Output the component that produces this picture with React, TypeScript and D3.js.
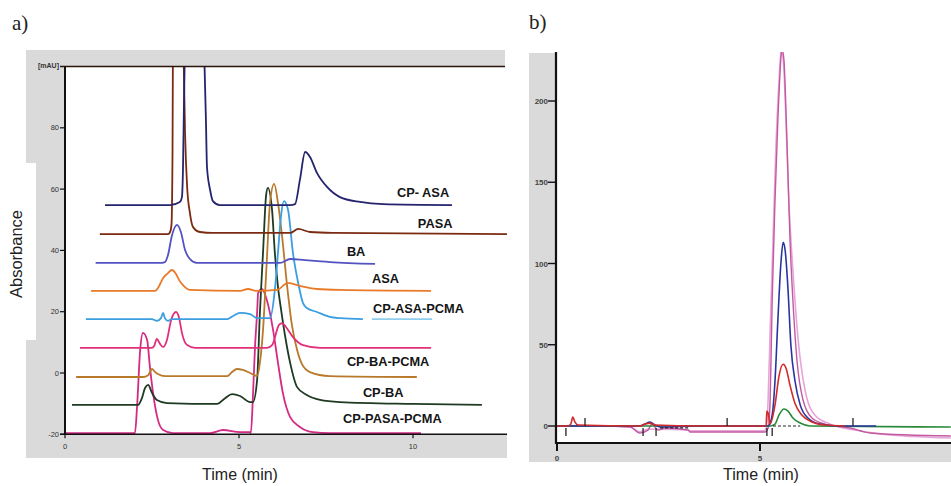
import React from 'react';
import * as d3 from 'd3';

type P = [number, number];

// ---------- Panel a: chromatograms (time min, absorbance mAU) ----------
const cpAsa: P[] = [
  [1.15, 54.8], [3.02, 54.8], [3.3, 55.8], [3.36, 57.4], [3.39, 66.2], [3.42, 89.1], [3.45, 108.6],
  [3.74, 219], [3.99, 108.6], [4.05, 82.5], [4.08, 67.2], [4.17, 59.7], [4.25, 56.1], [4.45, 54.8],
  [4.83, 54.8], [6.47, 54.8], [6.61, 55.1], [6.75, 63.0], [6.9, 72.1], [7.04, 70.5], [7.24, 65.3],
  [7.53, 60.7], [7.9, 57.4], [8.48, 55.8], [9.14, 55.1], [11.12, 54.8],
];
const pasa: P[] = [
  [1.0, 45.3], [2.96, 45.3], [3.02, 46.0], [3.06, 48.3], [3.09, 72.8], [3.1, 102], [3.25, 220],
  [3.41, 102], [3.45, 78.3], [3.51, 60.7], [3.59, 52.2], [3.68, 47.6], [3.88, 46.0], [4.25, 45.7],
  [6.47, 45.7], [6.7, 47.0], [7.04, 46.0], [7.7, 45.7], [12.7, 45.3],
];
const ba: P[] = [
  [0.88, 35.9], [2.73, 35.9], [2.87, 36.2], [2.96, 38.5], [3.07, 44.7], [3.22, 48.3], [3.33, 46.0],
  [3.45, 40.1], [3.59, 37.2], [3.79, 35.9], [6.18, 35.9], [6.47, 37.2], [6.9, 36.8], [7.61, 36.2],
  [8.91, 35.6],
];
const asa: P[] = [
  [0.75, 26.8], [2.59, 26.8], [2.67, 27.7], [2.82, 31.0], [2.96, 32.6], [3.07, 33.6], [3.19, 32.3],
  [3.28, 30.3], [3.39, 28.7], [3.59, 27.1], [5.03, 26.8], [5.26, 27.4], [5.49, 26.8], [6.09, 27.1],
  [6.41, 29.4], [6.75, 28.4], [7.24, 27.4], [7.9, 27.1], [10.52, 26.8],
];
const cpAsaPcma: P[] = [
  [0.6, 17.6], [2.5, 17.6], [2.64, 17.0], [2.76, 17.9], [2.82, 19.6], [2.87, 17.9], [2.96, 17.0],
  [3.07, 17.6], [4.66, 17.6], [4.83, 18.6], [5.03, 19.6], [5.32, 19.2], [5.52, 17.9], [5.89, 17.9],
  [6.03, 27.1], [6.12, 39.2], [6.21, 51.5], [6.29, 56.1], [6.41, 53.2], [6.55, 39.2], [6.7, 29.4],
  [6.84, 22.8], [6.95, 21.2], [7.24, 19.9], [7.61, 18.3], [7.9, 17.9], [8.56, 17.6],
];
const cpAsaPcmaTail: P[] = [[8.82, 17.6], [10.55, 17.6]];
const cpBaPcma: P[] = [
  [0.43, 8.2], [2.5, 8.2], [2.56, 8.8], [2.64, 11.1], [2.73, 9.5], [2.82, 8.5], [2.93, 10.8],
  [3.05, 17.3], [3.19, 19.9], [3.28, 17.9], [3.36, 13.1], [3.51, 9.1], [3.74, 8.2], [5.8, 8.2],
  [5.95, 9.1], [6.15, 15.7], [6.24, 16.3], [6.35, 15.0], [6.55, 11.7], [6.84, 9.1], [7.33, 8.2],
  [10.52, 8.2],
];
const cpBa: P[] = [
  [0.32, -1.3], [2.24, -1.3], [2.39, -0.7], [2.5, 1.3], [2.59, 0.3], [2.67, -0.3], [2.87, -1.0],
  [4.66, -1.0], [4.8, 0.3], [4.94, 1.3], [5.11, 1.0], [5.32, 0], [5.52, -1.0], [5.6, 3.3],
  [5.69, 14.0], [5.8, 36.9], [5.89, 55.5], [6.01, 61.7], [6.12, 55.5], [6.24, 44.4], [6.38, 28.7],
  [6.52, 15.7], [6.67, 7.5], [6.81, 2.9], [7.04, 0.3], [7.61, -1.0], [10.11, -1.3],
];
const cpPasaPcma: P[] = [
  [0.2, -10.4], [2.1, -10.4], [2.21, -8.2], [2.3, -4.9], [2.39, -3.9], [2.5, -6.5], [2.64, -8.8],
  [2.93, -9.8], [4.37, -10.1], [4.6, -8.2], [4.8, -6.9], [5.03, -7.5], [5.32, -9.5], [5.4, -9.5],
  [5.52, -2.3], [5.6, 19.6], [5.69, 39.2], [5.78, 58.1], [5.83, 60.4], [5.95, 53.2], [6.03, 39.2],
  [6.12, 28.1], [6.21, 20.6], [6.32, 12.4], [6.47, 3.3], [6.67, -4.6], [6.95, -7.2], [7.33, -8.8],
  [7.9, -9.5], [10.0, -10.1], [11.98, -10.4],
];
const bottomTrace: P[] = [
  [0, -19.6], [2.01, -19.6], [2.07, -11.1], [2.16, 7.5], [2.24, 13.1], [2.36, 10.8], [2.44, 2.0],
  [2.53, -6.5], [2.67, -15.3], [2.82, -18.6], [3.1, -19.6], [4.17, -19.6], [4.54, -18.6],
  [5.03, -19.3], [5.32, -19.3], [5.34, -19.6], [5.4, -7.8], [5.46, 8.5], [5.52, 19.6], [5.55, 26.1],
  [5.66, 27.4], [5.8, 23.8], [5.98, 14.0], [6.12, 3.3], [6.26, -6.5], [6.47, -14.4], [6.75, -17.6],
  [7.13, -19.3], [7.61, -19.6], [10.23, -19.6],
];

const labelNames = ['CP- ASA', 'PASA', 'BA', 'ASA', 'CP-ASA-PCMA', 'CP-BA-PCMA', 'CP-BA', 'CP-PASA-PCMA'];
const labelTimes = [9.54, 10.14, 8.1, 8.82, 8.85, 8.1, 8.56, 7.99];
const labelValues = [57.4, 47.3, 38.2, 29.4, 19.6, 2.3, -7.8, -16.3];

const yTicksA = [-20, 0, 20, 40, 60, 80];
const xTicksA = [0, 5, 10];

// ---------- Panel b ----------
const pinkA: P[] = [
  [0, 0], [1.06, 0], [1.8, -0.6], [2.04, -4.3], [2.24, -2.5], [2.34, 1.2], [2.49, -2.5], [2.66, -1.2],
  [3.23, -2.5], [3.28, -3.7], [5.12, -3.7], [5.2, -1.2], [5.25, 16], [5.3, 77.5], [5.37, 139],
  [5.44, 188], [5.52, 228], [5.54, 232.5], [5.59, 225], [5.67, 170], [5.74, 114], [5.81, 77.5],
  [5.91, 40.6], [6.06, 16], [6.28, 4.9], [6.6, 1.2], [7.22, -1.2], [7.71, -4.3], [9.7, -6.2],
];
const pinkB: P[] = [
  [0, 0], [1.06, 0], [1.8, -0.6], [2.04, -3.5], [2.24, -2.0], [2.49, -2.0], [3.23, -2.5],
  [3.28, -3.0], [5.1, -3.0], [5.15, -1.2], [5.2, 16], [5.25, 59], [5.32, 114], [5.39, 170],
  [5.47, 213], [5.52, 231], [5.57, 226], [5.64, 188], [5.71, 139], [5.81, 96], [5.94, 53],
  [6.11, 22], [6.35, 6.8], [6.72, 1.2], [7.34, -2.5], [7.96, -4.9], [9.7, -7.4],
];
const blueB: P[] = [
  [0, 0], [2.04, 0], [2.17, 1.2], [2.29, 2.5], [2.41, 0.6], [2.54, -0.6], [3.52, 0], [5.2, 0],
  [5.3, 6.8], [5.37, 28], [5.44, 65], [5.52, 102], [5.57, 113], [5.62, 108], [5.69, 84],
  [5.76, 50], [5.86, 28], [5.99, 13], [6.18, 4.9], [6.48, 1.2], [6.97, 0], [7.86, 0],
];
const redB: P[] = [
  [0, 0], [0.27, 0], [0.34, 1.2], [0.39, 5.5], [0.44, 2.5], [0.52, 0.6], [2.04, 0], [2.17, 1.2],
  [2.29, 1.8], [2.41, 0.6], [3.52, 0], [5.15, 0], [5.17, 9.2], [5.2, 8], [5.25, 1.2], [5.37, 13],
  [5.47, 31], [5.57, 38], [5.64, 35.7], [5.74, 25], [5.86, 14], [6.03, 6.8], [6.28, 2.5],
  [6.6, 0.6], [7.09, 0],
];
const greenB: P[] = [
  [0, 0], [5.25, 0], [5.37, 1.2], [5.47, 6.8], [5.59, 10.5], [5.69, 9.2], [5.81, 4.9], [5.99, 1.8],
  [6.23, 0], [9.7, -0.6],
];
const markerTimes = [0.22, 0.69, 2.12, 2.44, 4.19, 5.17, 5.3, 7.29];
const markerUp = [false, true, false, false, true, false, false, true];
const dashStarts = [2.54, 5.32];
const dashEnds = [3.28, 5.99];
const dashValues = [-1.2, 0];

const yTicksB = [0, 50, 100, 150, 200];
const xTicksB = [0, 5];

export default function App() {
  // panel a scales
  const xA = d3.scaleLinear().domain([0, 10]).range([65, 413]);
  const yA = d3.scaleLinear().domain([-20, 100]).range([434.3, 66.5]);
  const lineA = d3.line<P>().x(d => xA(d[0])).y(d => yA(d[1])).curve(d3.curveMonotoneX);

  const seriesA = [
    { data: bottomTrace, color: '#d42a85' },
    { data: cpPasaPcma, color: '#1e3a22' },
    { data: cpBa, color: '#b8792a' },
    { data: cpBaPcma, color: '#e0307a' },
    { data: cpAsaPcma, color: '#3a9ee0' },
    { data: asa, color: '#e87a28' },
    { data: ba, color: '#5252c2' },
    { data: pasa, color: '#7b2b12' },
    { data: cpAsa, color: '#25246e' },
  ];

  // panel b scales
  const xB = d3.scaleLinear().domain([0, 5]).range([557, 760]);
  const yB = d3.scaleLinear().domain([0, 200]).range([426, 101]);
  const lineB = d3.line<P>().x(d => xB(d[0])).y(d => yB(d[1])).curve(d3.curveMonotoneX);
  const seriesB = [
    { data: pinkB, color: '#e6a6d8', w: 1.6 },
    { data: pinkA, color: '#c25aa2', w: 1.4 },
    { data: greenB, color: '#2a8a3a', w: 1.6 },
    { data: blueB, color: '#2a34a0', w: 1.6 },
    { data: redB, color: '#d42a2a', w: 1.6 },
  ];

  const gray = '#dadada';
  const sans = 'Liberation Sans, Arial, sans-serif';

  return (
    <svg width={951} height={486} style={{ position: 'absolute', left: 0, top: 0, background: '#fff' }}>
      <defs>
        <clipPath id="clipA"><rect x={65} y={67} width={442} height={368} /></clipPath>
        <clipPath id="clipB"><rect x={557} y={52} width={394} height={391} /></clipPath>
      </defs>

      {/* panel letters */}
      <text x={12} y={30} fontFamily="Liberation Serif, serif" fontSize={21} fill="#222">a)</text>
      <text x={529} y={29} fontFamily="Liberation Serif, serif" fontSize={21} fill="#222">b)</text>

      {/* ---- panel a frame ---- */}
      <rect x={26} y={50} width={479} height={17} fill={gray} />
      <rect x={26} y={50} width={39} height={408} fill={gray} />
      <rect x={26} y={434} width={481} height={24} fill={gray} />
      <rect x={26} y={163} width={10} height={177} fill="#fff" />

      <g clipPath="url(#clipA)">
        {seriesA.map((s, i) => (
          <path key={i} d={lineA(s.data) || ''} fill="none" stroke={s.color} strokeWidth={1.8} strokeLinejoin="round" />
        ))}
        <path d={lineA(cpAsaPcmaTail) || ''} fill="none" stroke="#8fcdee" strokeWidth={1.8} />
      </g>

      <line x1={60} x2={505} y1={yA(100)} y2={yA(100)} stroke="#2a150c" strokeWidth={1.4} />
      <line x1={65} x2={65} y1={yA(100)} y2={yA(-20)} stroke="#111" strokeWidth={2} />
      <line x1={60} x2={507} y1={yA(-20)} y2={yA(-20)} stroke="#111" strokeWidth={1.6} />
      {yTicksA.map(t => (
        <g key={t}>
          <line x1={60} x2={65} y1={yA(t)} y2={yA(t)} stroke="#111" strokeWidth={1.2} />
          <text x={59} y={yA(t) + 2.6} textAnchor="end" fontFamily={sans} fontSize={7.5} fill="#333">{t}</text>
        </g>
      ))}
      <text x={59} y={yA(100) + 1.5} textAnchor="end" fontFamily={sans} fontWeight="bold" fontSize={7} fill="#333">[mAU]</text>
      {xTicksA.map(t => (
        <g key={t}>
          <line x1={xA(t)} x2={xA(t)} y1={yA(-20)} y2={yA(-20) + 4} stroke="#111" strokeWidth={1.2} />
          <text x={xA(t)} y={449} textAnchor="middle" fontFamily={sans} fontSize={7.5} fill="#333">{t}</text>
        </g>
      ))}
      {labelNames.map((n, i) => (
        <text key={n} x={xA(labelTimes[i])} y={yA(labelValues[i])} fontFamily={sans} fontWeight="bold" fontSize={12.8} fill="#151515">{n}</text>
      ))}
      <text transform="translate(22,254) rotate(-90)" textAnchor="middle" fontFamily={sans} fontSize={16.5} fill="#222">Absorbance</text>
      <text x={240} y={480} textAnchor="middle" fontFamily={sans} fontSize={16} fill="#222">Time (min)</text>

      {/* ---- panel b frame ---- */}
      <rect x={529} y={53} width={27} height={409} fill={gray} />
      <rect x={529} y={444} width={422} height={18} fill={gray} />

      <g clipPath="url(#clipB)">
        {seriesB.map((s, i) => (
          <path key={i} d={lineB(s.data) || ''} fill="none" stroke={s.color} strokeWidth={s.w} strokeLinejoin="round" />
        ))}
        {dashStarts.map((d, i) => (
          <line key={i} x1={xB(d)} x2={xB(dashEnds[i])} y1={yB(dashValues[i])} y2={yB(dashValues[i])} stroke="#222" strokeWidth={1.2} strokeDasharray="3,2" />
        ))}
        {markerTimes.map((t, i) => (
          <line key={i} x1={xB(t)} x2={xB(t)} y1={markerUp[i] ? yB(0) : yB(0) + 2} y2={markerUp[i] ? yB(0) - 8 : yB(0) + 10} stroke="#222" strokeWidth={1.3} />
        ))}
      </g>

      <line x1={556} x2={556} y1={52} y2={444} stroke="#111" strokeWidth={2.2} />
      <line x1={555} x2={951} y1={443} y2={443} stroke="#111" strokeWidth={2.2} />
      {yTicksB.map(t => (
        <g key={t}>
          <line x1={548} x2={556} y1={yB(t)} y2={yB(t)} stroke="#111" strokeWidth={1.4} />
          <text x={548} y={yB(t) + 3} textAnchor="end" fontFamily={sans} fontWeight="bold" fontSize={8} fill="#444">{t}</text>
        </g>
      ))}
      {xTicksB.map(t => (
        <g key={t}>
          <line x1={xB(t)} x2={xB(t)} y1={443} y2={451} stroke="#111" strokeWidth={2} />
          <text x={xB(t)} y={461} textAnchor="middle" fontFamily={sans} fontWeight="bold" fontSize={8} fill="#444">{t}</text>
        </g>
      ))}
      <text x={761} y={480} textAnchor="middle" fontFamily={sans} fontSize={16} fill="#222">Time (min)</text>
    </svg>
  );
}
